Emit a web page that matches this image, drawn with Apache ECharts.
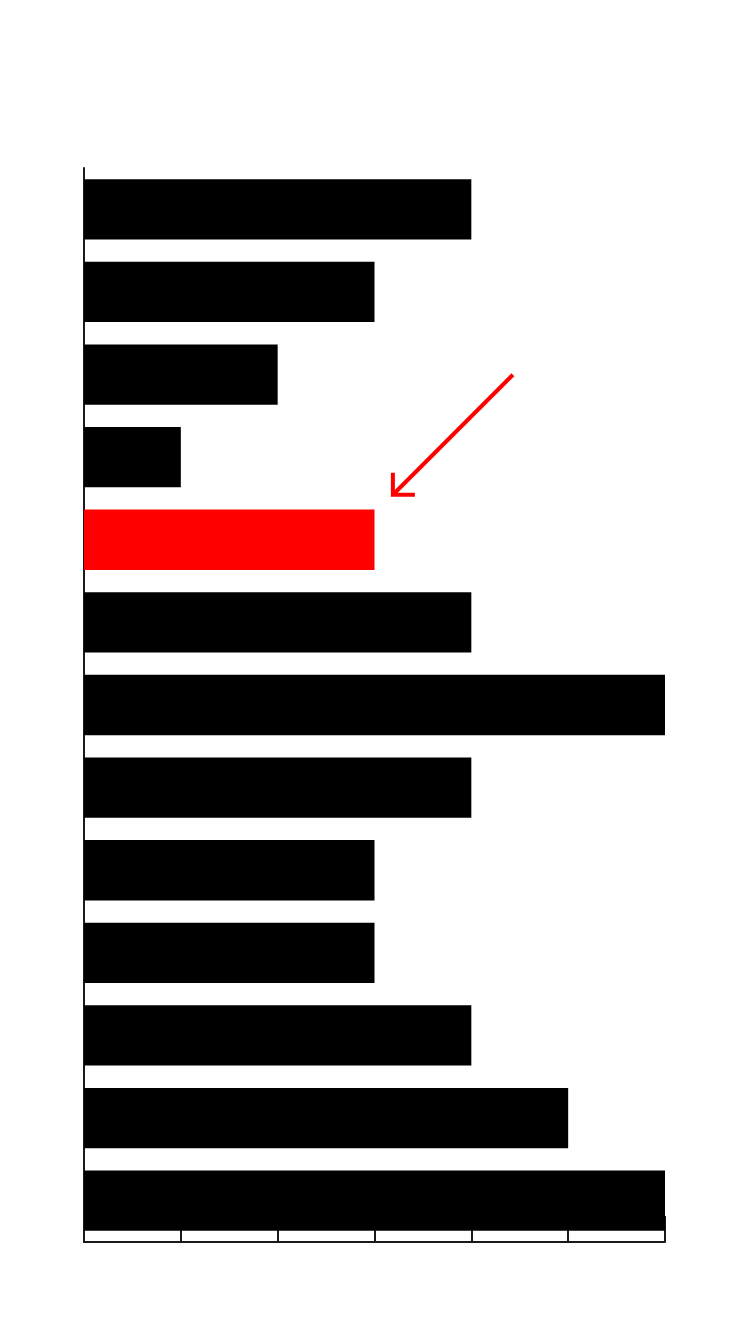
<!DOCTYPE html>
<html>
<head>
<meta charset="utf-8">
<script src="https://cdn.jsdelivr.net/npm/echarts@6/dist/echarts.min.js"></script>
<style>html,body{margin:0;padding:0;background:#fff;}#c{width:750px;height:1324px;}</style>
</head>
<body>
<div id="c"></div>
<script>
var categories = ['1','2','3','4','5','6','7','8','9','10','11','12','13'];
var values = [4, 3, 2, 1, 3, 4, 6, 4, 3, 3, 4, 5, 6];
var highlightIndex = 4;
var xTicks = [0, 1, 2, 3, 4, 5, 6];

var chart = echarts.init(document.getElementById('c'), null, {renderer: 'canvas'});
var data = values.map(function (v, i) {
  return {value: v, itemStyle: {color: i === highlightIndex ? '#ff0000' : '#000000'}};
});
chart.setOption({
  animation: false,
  backgroundColor: '#ffffff',
  grid: {left: 84, right: 85, top: 168, bottom: 82, containLabel: false},
  xAxis: {
    type: 'value', min: xTicks[0], max: xTicks[xTicks.length - 1], interval: 1,
    axisLine: {show: true, lineStyle: {color: '#1a1a1a', width: 2}},
    axisTick: {show: true, inside: true, length: 26, lineStyle: {color: '#1a1a1a', width: 2}},
    axisLabel: {show: false},
    splitLine: {show: false}
  },
  yAxis: {
    type: 'category', data: categories, inverse: true,
    axisLine: {show: true, onZero: false, lineStyle: {color: '#1a1a1a', width: 2}},
    axisTick: {show: false},
    axisLabel: {show: false},
    splitLine: {show: false}
  },
  series: [{
    type: 'bar', data: data, barCategoryGap: '27%', z: 3
  }]
});

// annotation arrow pointing at highlighted bar
var tip = chart.convertToPixel({gridIndex: 0}, [3.19, highlightIndex]);
tip[1] -= 45;
var tail = [tip[0] + 120, tip[1] - 120];
var arm = 22;
chart.setOption({
  graphic: [{
    type: 'group', z: 100,
    children: [
      {type: 'line', shape: {x1: tail[0], y1: tail[1], x2: tip[0], y2: tip[1]}, style: {stroke: '#ff0000', lineWidth: 4}},
      {type: 'polyline', shape: {points: [[tip[0], tip[1] - arm], [tip[0], tip[1]], [tip[0] + arm, tip[1]]]}, style: {stroke: '#ff0000', lineWidth: 4, fill: null}}
    ]
  }]
});
</script>
</body>
</html>
